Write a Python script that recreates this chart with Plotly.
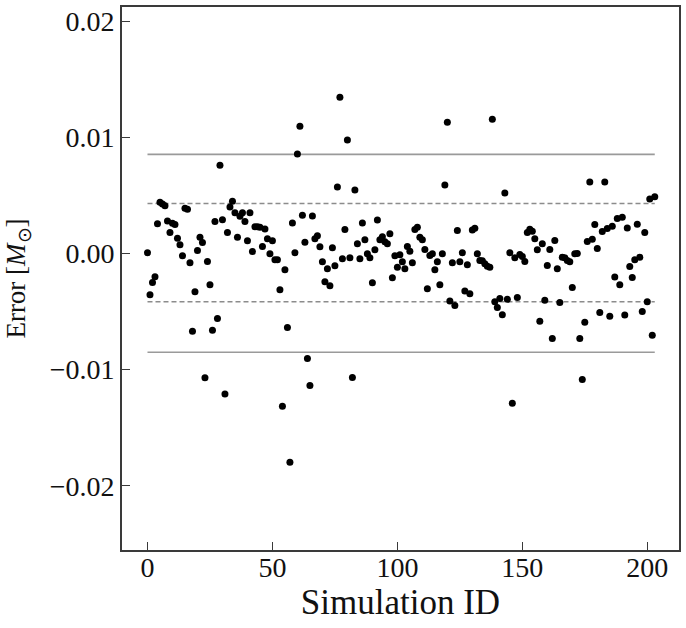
import plotly.graph_objects as go

# error per simulation
errors = [
    0.00006, -0.00355, -0.0025, -0.002, 0.00255, 0.0044, 0.00426, 0.0041, 0.0028, 0.0018,
    0.0026, 0.0025, 0.0013, 0.00075, -0.0002, 0.0039, 0.0038, -0.0008, -0.0067, -0.0033,
    0.00026, 0.0014, 0.00094, -0.0107, -0.0007, -0.0027, -0.0066, 0.00275, -0.0056, 0.0076,
    0.0029, -0.0121, 0.0018, 0.004, 0.0045, 0.0035, 0.0014, 0.0032, 0.0035, 0.00275,
    0.0011, 0.0035, 0.00017, 0.0023, 0.0023, 0.00226, 0.0006, 0.0021, 0.00126, -0.00003,
    0.0011, -0.00054, -0.00054, -0.00312, -0.01316, -0.0014, -0.00638, -0.01797, 0.00263, 0.00006,
    0.00856, 0.01096, 0.0033, 0.00097, -0.00904, -0.01136, 0.00323, 0.00126, 0.00152, 0.00057,
    -0.00071, -0.00243, -0.00131, -0.00277, 0.00049, -0.00106, 0.00572, 0.01345, -0.00046, 0.00206,
    0.00976, -0.00037, -0.01067, 0.00547, 0.00083, -0.00046, 0.00263, 0.00118, -0.00003, -0.00037,
    -0.00252, 0.00032, 0.00289, 0.00118, 0.00143, 0.001, 0.00083, 0.00169, -0.00209, -0.0002,
    -0.00118, -0.00011, -0.00071, -0.00131, 0.0006, 0.0002, -0.0008, 0.00206, 0.00226, 0.0014,
    0.00118, 0.00034, -0.00303, -0.00017, -0.00003, -0.0014, -0.00071, -0.00269, -0.00003, 0.0059,
    0.0113, -0.0041, -0.0008, -0.00449, 0.00197, -0.00071, 0.00006, -0.00324, -0.00097, -0.00346,
    0.00203, 0.00217, -0.00003, -0.0006, -0.00063, -0.00089, -0.00109, -0.00118, 0.01156, -0.00416,
    -0.00465, -0.00387, -0.00528, 0.00521, -0.00395, 0.00006, -0.0129, -0.00037, -0.0038, -0.00009,
    -0.00026, -0.00069, 0.0018, 0.00209, 0.00191, 0.00126, 0.00032, -0.00584, 0.00083, -0.00403,
    -0.00103, 0.00034, -0.00732, 0.00112, -0.00131, -0.00423, -0.00032, -0.00037, -0.0006, -0.00071,
    -0.00292, -0.00003, 0.0, -0.00732, -0.01084, -0.00592, 0.00103, 0.00615, 0.00123, 0.00249,
    0.00043, -0.00509, 0.00189, 0.00615, 0.00215, -0.00541, 0.00234, -0.00203, 0.003, -0.00269,
    0.00312, -0.0053, 0.0022, -0.00112, -0.00206, -0.00054, 0.00252, -0.00032, -0.005, 0.0018,
    -0.00415, 0.0047, -0.00704, 0.00489,
]
sim_ids = list(range(len(errors)))

# reference levels (two-sigma solid, one-sigma dashed)
solid_levels = [0.00853, -0.0085]
dashed_levels = [0.0043, -0.00416]

y_tickvals = [-0.02, -0.01, 0.0, 0.01, 0.02]
y_ticktext = ["\u22120.02", "\u22120.01", "0.00", "0.01", "0.02"]
x_tickvals = [0, 50, 100, 150, 200]

FONT = "Liberation Serif"
INK = "#111111"

fig = go.Figure()

for lvl in solid_levels:
    fig.add_trace(go.Scatter(x=[sim_ids[0], sim_ids[-1]], y=[lvl, lvl], mode="lines",
                             line=dict(color="#9a9a9a", width=1.6), hoverinfo="skip"))
for lvl in dashed_levels:
    fig.add_trace(go.Scatter(x=[sim_ids[0], sim_ids[-1]], y=[lvl, lvl], mode="lines",
                             line=dict(color="#8c8c8c", width=1.4, dash="5px,3px"), hoverinfo="skip"))

fig.add_trace(go.Scatter(x=sim_ids, y=errors, mode="markers",
                         marker=dict(color="black", size=7, line=dict(width=0))))

axis_common = dict(showline=True, mirror=True, linecolor="#3a3a3a", linewidth=1.6,
                   showgrid=False, zeroline=False, ticks="inside", ticklen=8, tickwidth=1,
                   tickcolor="#3a3a3a", automargin=False,
                   tickfont=dict(family=FONT, size=28, color=INK))

fig.update_xaxes(range=[-10.2, 212.7], tickvals=x_tickvals, ticklabelstandoff=-8,
                 title=dict(text="Simulation ID", font=dict(family=FONT, size=35, color=INK), standoff=0),
                 **axis_common)
fig.update_yaxes(range=[-0.02553, 0.02122], tickvals=y_tickvals, ticktext=y_ticktext,
                 title=dict(text="Error [<i>M</i><sub>\u2299</sub>]", font=dict(family=FONT, size=27, color=INK), standoff=16),
                 **axis_common)

fig.update_layout(width=686, height=628, showlegend=False,
                  margin=dict(l=122, r=7, t=7, b=78),
                  plot_bgcolor="white", paper_bgcolor="white")

# drop the browser's default 8px body margin so the figure fills the window
fig.write_html("out.html", config={"displayModeBar": False},
               post_script="document.body.style.margin='0';")
